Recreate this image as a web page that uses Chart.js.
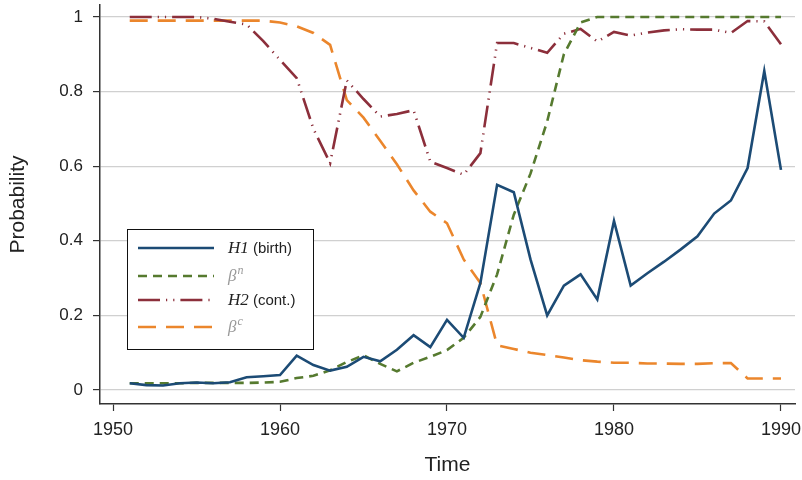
<!DOCTYPE html>
<html>
<head>
<meta charset="utf-8">
<script src="https://cdn.jsdelivr.net/npm/chart.js@4"></script>
<style>
  html, body { margin: 0; padding: 0; background: #fff; }
  #wrap { width: 802px; height: 480px; }
</style>
</head>
<body>
<div id="wrap"><canvas id="c" width="802" height="480"></canvas></div>
<script>
// data
const years = [1951,1952,1953,1954,1955,1956,1957,1958,1959,1960,
  1961,1962,1963,1964,1965,1966,1967,1968,1969,1970,
  1971,1972,1973,1974,1975,1976,1977,1978,1979,1980,
  1981,1982,1983,1984,1985,1986,1987,1988,1989,1990];

const h1Birth = [0.018,0.013,0.012,0.018,0.02,0.018,0.021,0.034,0.037,0.04,
  0.092,0.067,0.052,0.062,0.089,0.077,0.108,0.147,0.115,0.188,
  0.14,0.287,0.55,0.53,0.35,0.2,0.28,0.31,0.243,0.453,
  0.28,0.313,0.344,0.377,0.412,0.473,0.508,0.595,0.855,0.59];

const betaN = [0.018,0.018,0.018,0.018,0.019,0.019,0.019,0.019,0.02,0.022,
  0.032,0.038,0.053,0.075,0.093,0.07,0.05,0.073,0.089,0.107,
  0.14,0.196,0.31,0.47,0.58,0.72,0.9,0.985,1,1,
  1,1,1,1,1,1,1,1,1,1];

const h2Cont = [1,1,1,1,1,0.995,0.987,0.98,0.935,0.885,
  0.836,0.7,0.608,0.83,0.78,0.733,0.74,0.75,0.612,0.595,
  0.577,0.635,0.93,0.93,0.917,0.904,0.955,0.968,0.934,0.96,
  0.95,0.958,0.964,0.967,0.966,0.966,0.957,0.989,0.988,0.927];

const betaC = [0.99,0.99,0.99,0.99,0.99,0.99,0.99,0.99,0.99,0.985,
  0.975,0.957,0.925,0.777,0.73,0.668,0.605,0.535,0.478,0.447,
  0.35,0.287,0.12,0.11,0.1,0.094,0.087,0.08,0.076,0.073,
  0.073,0.071,0.071,0.07,0.07,0.072,0.072,0.031,0.031,0.031];

const xTicks = [1950,1960,1970,1980,1990];
const yTicks = [0,0.2,0.4,0.6,0.8,1];

// legend text pieces: [italic serif part, superscript, plain sans part]
const legendText = [
  ["H1", "", " (birth)"],
  ["\u03b2", "n", ""],
  ["H2", "", " (cont.)"],
  ["\u03b2", "c", ""]
];

const pts = arr => years.map((y, i) => ({ x: y, y: arr[i] }));

const BLUE = "#1c4b75", GREEN = "#567a2f", RED = "#8c2f3b", ORANGE = "#eb862c";
const SANS = "'Liberation Sans', Arial, sans-serif";

const datasets = [
  { data: pts(h1Birth), borderColor: BLUE, borderWidth: 2.6 },
  { data: pts(betaN), borderColor: GREEN, borderWidth: 2.6, borderDash: [9, 6] },
  { data: pts(h2Cont), borderColor: RED, borderWidth: 2.6, borderDash: [22, 6, 1.2, 6, 1.2, 6] },
  { data: pts(betaC), borderColor: ORANGE, borderWidth: 2.6, borderDash: [18, 10] }
].map(d => Object.assign(d, { pointRadius: 0, tension: 0, fill: false }));

// custom legend box with mixed fonts
const legendBox = {
  id: "legendBox",
  afterDatasetsDraw(chart) {
    const ctx = chart.ctx;
    const x0 = 127, y0 = 229, w = 186, h = 120;
    ctx.save();
    ctx.fillStyle = "#fff";
    ctx.fillRect(x0, y0, w, h);
    ctx.strokeStyle = "#111";
    ctx.lineWidth = 1;
    ctx.strokeRect(x0 + 0.5, y0 + 0.5, w, h);
    const rows = [248, 276, 300, 327];
    chart.data.datasets.forEach((ds, i) => {
      const y = rows[i];
      ctx.strokeStyle = ds.borderColor;
      ctx.lineWidth = ds.borderWidth;
      ctx.setLineDash(ds.borderDash || []);
      ctx.beginPath();
      ctx.moveTo(138, y);
      ctx.lineTo(214, y);
      ctx.stroke();
      ctx.setLineDash([]);
      const [it, sup, plain] = legendText[i];
      let tx = 228;
      ctx.textBaseline = "middle";
      ctx.fillStyle = it === "\u03b2" ? "#999" : "#222";
      ctx.font = "italic 17px 'Liberation Serif', serif";
      ctx.fillText(it, tx, y + 1);
      tx += ctx.measureText(it).width;
      if (sup) {
        ctx.font = "italic 12px 'Liberation Serif', serif";
        ctx.fillText(sup, tx + 1, y - 5);
      }
      if (plain) {
        ctx.fillStyle = "#222";
        ctx.font = "15px " + SANS;
        ctx.fillText(plain, tx, y + 1);
      }
    });
    ctx.restore();
  }
};

new Chart(document.getElementById("c"), {
  type: "line",
  data: { datasets },
  plugins: [legendBox],
  options: {
    responsive: false,
    animation: false,
    layout: { padding: { top: 5, right: 7, left: 0, bottom: 0 } },
    plugins: { legend: { display: false }, tooltip: { enabled: false } },
    scales: {
      x: {
        type: "linear",
        min: 1949.22,
        max: 1990.84,
        afterBuildTicks: s => { s.ticks = xTicks.map(v => ({ value: v })); },
        afterFit: s => { s.height = 76; s.paddingLeft = 0; s.paddingRight = 0; },
        ticks: {
          color: "#222",
          padding: 8,
          font: { family: SANS, size: 18 },
          callback: v => String(v)
        },
        grid: { drawOnChartArea: false, tickLength: 7, tickColor: "#333", tickWidth: 1.2 },
        border: { color: "#333", width: 1.5 },
        title: {
          display: true, text: "Time", color: "#222",
          font: { family: SANS, size: 21 },
          padding: { top: 0, bottom: 2.5 }
        }
      },
      y: {
        min: -0.0375,
        max: 1.032,
        afterBuildTicks: s => { s.ticks = yTicks.map(v => ({ value: v })); },
        afterFit: s => { s.width = 100; s.paddingTop = 0; s.paddingBottom = 0; },
        ticks: {
          color: "#222",
          padding: 10,
          font: { family: SANS, size: 17 },
          callback: v => String(Math.round(v * 10) / 10)
        },
        grid: { color: "#d0d0d0", lineWidth: 1.2, tickLength: 7, tickColor: "#333", tickWidth: 1.2 },
        border: { color: "#333", width: 1.5 },
        title: {
          display: true, text: "Probability", color: "#222",
          font: { family: SANS, size: 21 },
          padding: { top: 6, bottom: 0 }
        }
      }
    }
  }
});
</script>
</body>
</html>
